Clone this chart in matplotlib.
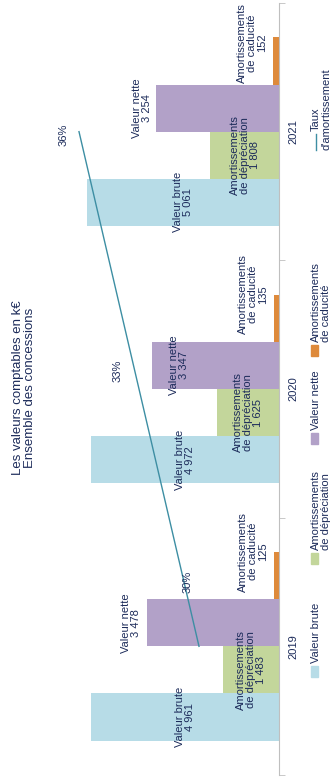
import matplotlib
matplotlib.use("Agg")
import matplotlib.pyplot as plt
from matplotlib.patches import Rectangle

plt.rcParams['font.family'] = ['Liberation Sans', 'DejaVu Sans']

# Valeurs comptables (k€) par année
annees = ["2019", "2020", "2021"]
valeur_brute = [4961, 4972, 5061]
amort_depreciation = [1483, 1625, 1808]
valeur_nette = [3478, 3347, 3254]
amort_caducite = [125, 135, 152]
taux_amort = [30, 33, 36]

c_brute = "#b7dce7"
c_deprec = "#c3d69b"
c_nette = "#b2a1c8"
c_caduc = "#de8a3b"
c_taux = "#3d8ea3"
c_texte = "#1c2b5a"

def fmt(v):
    return f"{v:,}".replace(",", " ")

fig = plt.figure(figsize=(3.32, 7.83), dpi=100)

# axe principal : barres horizontales, l'axe des valeurs est inversé
W, H = 332, 783
x0, x1, y_top, y_bot = 44, 279, 3, 775
ax = fig.add_axes([x0 / W, (H - y_bot) / H, (x1 - x0) / W, (y_bot - y_top) / H])
ax.set_xlim(6200, 0)
ax.set_ylim(-0.5, 2.5)

h = 0.183
pos = list(range(len(annees)))
ax.barh([p - 1.5 * h for p in pos], valeur_brute, height=h, color=c_brute)
ax.barh([p - 0.5 * h for p in pos], amort_depreciation, height=h, color=c_deprec)
ax.barh([p + 0.5 * h for p in pos], valeur_nette, height=h, color=c_nette)
ax.barh([p + 1.5 * h for p in pos], amort_caducite, height=h, color=c_caduc)

lab = dict(rotation=90, ha="center", va="center", color=c_texte, fontsize=8,
           linespacing=1.0, multialignment="center", textcoords="offset pixels")

# décalages des étiquettes (en pixels)
dec_nette = [-16, 27, -14]
dec_caduc = [24, 24, 18]
for i, p in enumerate(pos):
    ax.annotate(f"Valeur brute\n{fmt(valeur_brute[i])}",
                (valeur_brute[i] / 2, p - 1.5 * h), xytext=(0, 0), **lab)
    ax.annotate(f"Amortissements\nde dépréciation\n{fmt(amort_depreciation[i])}",
                (amort_depreciation[i] / 2, p - 0.5 * h), xytext=(0, 0), **lab)
    ax.annotate(f"Valeur nette\n{fmt(valeur_nette[i])}",
                (valeur_nette[i], p + 0.5 * h), xytext=(dec_nette[i], 0), **lab)
    ax.annotate(f"Amortissements\nde caducité\n{fmt(amort_caducite[i])}",
                (amort_caducite[i], p + 1.5 * h), xytext=(-21, dec_caduc[i]), **lab)

for s in ["top", "bottom", "left"]:
    ax.spines[s].set_visible(False)
ax.spines["right"].set_color("#bfbfbf")
ax.set_xticks([])
ax.yaxis.tick_right()
ax.set_yticks(pos, labels=annees)
ax.set_yticks([-0.5, 0.5, 1.5, 2.5], minor=True)
ax.tick_params(axis="y", which="major", length=0, pad=7, labelsize=8,
               labelcolor=c_texte, labelrotation=90)
ax.tick_params(axis="y", which="minor", length=4, color="#bfbfbf")
for t in ax.get_yticklabels():
    t.set_verticalalignment("center")

# taux d'amortissement sur un second axe
ax2 = ax.twiny()
ax2.set_xlim(37.75, 26)
ax2.plot(taux_amort, pos, color=c_taux, lw=1)
ax2.axis("off")
dec_taux = [(-11, 64), (-21, 18), (-15, -3)]
for i, p in enumerate(pos):
    ax2.annotate(f"{taux_amort[i]}%", (taux_amort[i], p), xytext=dec_taux[i],
                 textcoords="offset pixels", rotation=90, ha="center",
                 va="center", color=c_texte, fontsize=8)

# titre et légende en coordonnées pixel
lax = fig.add_axes([0, 0, 1, 1], zorder=-1)
lax.set_xlim(0, W)
lax.set_ylim(H, 0)
lax.axis("off")

lax.text(24, 388, "Les valeurs comptables en k€\nEnsemble des concessions",
         rotation=90, ha="center", va="center", multialignment="center",
         color=c_texte, fontsize=9.5, linespacing=1.05)

leg = [(c_brute, "Valeur brute", 666),
       (c_deprec, "Amortissements\nde dépréciation", 553),
       (c_nette, "Valeur nette", 433),
       (c_caduc, "Amortissements\nde caducité", 345)]
for couleur, texte, ym in leg:
    lax.add_patch(Rectangle((311, ym), 7, 11, color=couleur))
    lax.text(311, ym - 3, texte, rotation=90, rotation_mode="anchor",
             ha="left", va="top", color=c_texte, fontsize=8, linespacing=1.0)

lax.plot([316, 316], [150, 134], color=c_taux, lw=1)
lax.text(311, 131, "Taux", rotation=90, rotation_mode="anchor",
         ha="left", va="top", color=c_texte, fontsize=8)
lax.text(322, 150, "d'amortissement", rotation=90, rotation_mode="anchor",
         ha="left", va="top", color=c_texte, fontsize=8)

fig.savefig("out.png", dpi=100)
